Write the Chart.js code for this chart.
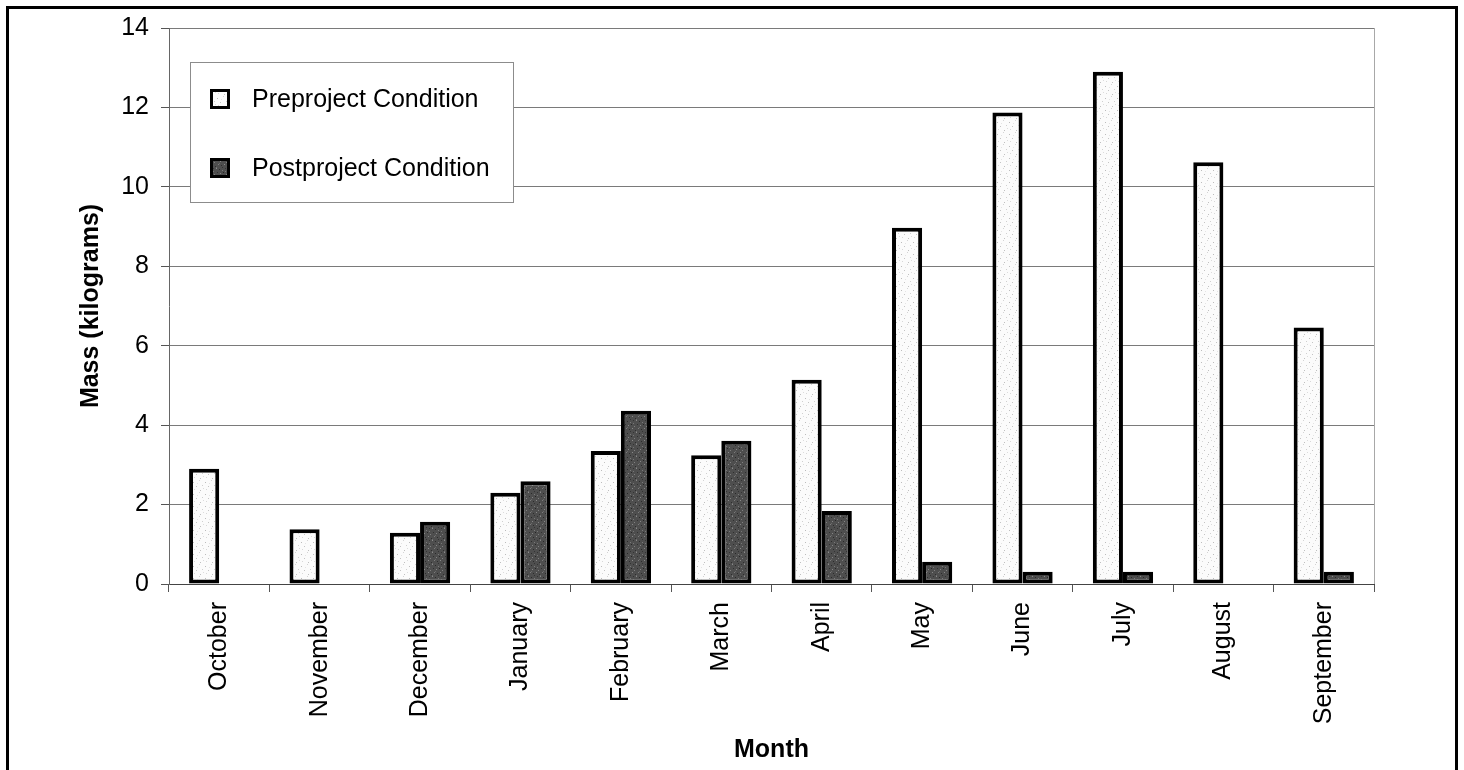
<!DOCTYPE html>
<html>
<head>
<meta charset="utf-8">
<title>Monthly Mass</title>
<script src="https://cdn.jsdelivr.net/npm/chart.js@4/dist/chart.umd.min.js"></script>
<style>
  html, body { margin: 0; padding: 0; background: #ffffff; }
  #wrap { width: 1464px; height: 770px; }
</style>
</head>
<body>
<div id="wrap"><canvas id="chart" width="1464" height="770"></canvas></div>
<script>
// Monthly mass, water year order
const months = ['October', 'November', 'December', 'January', 'February', 'March',
                'April', 'May', 'June', 'July', 'August', 'September'];
const preproject = [2.9, 1.38, 1.29, 2.3, 3.35, 3.24, 5.14, 8.97, 11.87, 12.9, 10.62, 6.46];
const postproject = [null, null, 1.57, 2.59, 4.36, 3.61, 1.84, 0.56, 0.31, 0.31, null, 0.31];
const seriesNames = ['Preproject Condition', 'Postproject Condition'];
const yTicks = [0, 2, 4, 6, 8, 10, 12, 14];

const FONT = '"Liberation Sans", Arial, Helvetica, sans-serif';

// Stippled fills
function stipple(base, dots) {
  const c = document.createElement('canvas');
  c.width = 12; c.height = 12;
  const g = c.getContext('2d');
  g.fillStyle = base;
  g.fillRect(0, 0, 12, 12);
  dots.forEach(([x, y, col]) => { g.fillStyle = col; g.fillRect(x, y, 1, 1); });
  return g.createPattern(c, 'repeat');
}
const lightFill = stipple('#fbfbfb', [
  [1, 2, '#bcbcbc'], [7, 0, '#d4d4d4'], [4, 6, '#c4c4c4'], [10, 5, '#d0d0d0'],
  [2, 9, '#d8d8d8'], [8, 10, '#c0c0c0'], [5, 3, '#e4e4e4'], [11, 8, '#dcdcdc']
]);
const darkFill = stipple('#4e4e4e', [
  [0, 0, '#8a8a8a'], [3, 1, '#2a2a2a'], [6, 2, '#7a7a7a'], [9, 0, '#333333'],
  [1, 4, '#303030'], [4, 5, '#858585'], [7, 4, '#262626'], [10, 6, '#808080'],
  [2, 8, '#7c7c7c'], [5, 9, '#2c2c2c'], [8, 8, '#888888'], [11, 10, '#2e2e2e'],
  [0, 11, '#6e6e6e'], [6, 11, '#333333'], [9, 3, '#777777'], [3, 7, '#6a6a6a']
]);

// Frame, right plot edge and legend box
const decorations = {
  id: 'decorations',
  afterDatasetsDraw(chart) {
    const { ctx, chartArea } = chart;
    ctx.save();
    // right edge of plot
    ctx.strokeStyle = '#a8a8a8';
    ctx.lineWidth = 1;
    ctx.beginPath();
    ctx.moveTo(Math.round(chartArea.right) + 0.5, chartArea.top);
    ctx.lineTo(Math.round(chartArea.right) + 0.5, chartArea.bottom);
    ctx.stroke();

    // legend box
    const bx = 190, by = 62, bw = 323, bh = 140;
    ctx.fillStyle = '#ffffff';
    ctx.fillRect(bx, by, bw, bh);
    ctx.strokeStyle = '#8c8c8c';
    ctx.lineWidth = 1;
    ctx.strokeRect(bx + 0.5, by + 0.5, bw, bh);
    const fills = [lightFill, darkFill];
    const rows = [99, 168];
    chart.data.datasets.forEach((ds, i) => {
      const cy = rows[i];
      ctx.fillStyle = fills[i];
      ctx.fillRect(210, cy - 10, 20, 20);
      ctx.strokeStyle = '#000000';
      ctx.lineWidth = 3;
      ctx.strokeRect(211.5, cy - 8.5, 17, 17);
      ctx.fillStyle = '#000000';
      ctx.font = '25px ' + FONT;
      ctx.textAlign = 'left';
      ctx.textBaseline = 'middle';
      ctx.fillText(ds.label, 252, cy + 1);
    });

    // outer frame
    ctx.strokeStyle = '#000000';
    ctx.lineWidth = 3;
    ctx.strokeRect(7.5, 7.5, 1449, 800);
    ctx.restore();
  }
};

new Chart(document.getElementById('chart'), {
  type: 'bar',
  data: {
    labels: months,
    datasets: [
      {
        label: seriesNames[0],
        data: preproject,
        backgroundColor: lightFill,
        borderColor: '#000000',
        borderWidth: 4,
        borderSkipped: false
      },
      {
        label: seriesNames[1],
        data: postproject,
        backgroundColor: darkFill,
        borderColor: '#000000',
        borderWidth: 4,
        borderSkipped: false
      }
    ]
  },
  options: {
    responsive: false,
    animation: false,
    devicePixelRatio: 1,
    layout: { padding: { top: 28, right: 90, bottom: 0, left: 0 } },
    datasets: { bar: { barPercentage: 1.0, categoryPercentage: 0.6 } },
    plugins: {
      legend: { display: false },
      tooltip: { enabled: false },
      title: { display: false }
    },
    scales: {
      x: {
        offset: true,
        afterFit(scale) { scale.height = 186; },
        grid: {
          offset: true,
          drawOnChartArea: false,
          drawTicks: true,
          tickLength: 8,
          tickColor: '#555555',
          lineWidth: 1
        },
        border: { display: true, color: '#444444', width: 1 },
        ticks: {
          autoSkip: false,
          minRotation: 90,
          maxRotation: 90,
          padding: 10,
          color: '#000000',
          font: { family: FONT, size: 25 }
        },
        title: {
          display: true,
          text: 'Month',
          color: '#000000',
          padding: { top: 0, bottom: 5 },
          font: { family: FONT, size: 25, weight: 'bold' }
        }
      },
      y: {
        min: 0,
        max: 14,
        afterFit(scale) { scale.width = 169; },
        afterBuildTicks(scale) { scale.ticks = yTicks.map(v => ({ value: v })); },
        grid: {
          color: '#7a7a7a',
          lineWidth: 1,
          drawTicks: true,
          tickLength: 8,
          tickColor: '#555555'
        },
        border: { display: true, color: '#666666', width: 1 },
        ticks: {
          padding: 12,
          color: '#000000',
          font: { family: FONT, size: 25 }
        },
        title: {
          display: true,
          text: 'Mass (kilograms)',
          color: '#000000',
          padding: { top: 76, bottom: 0 },
          font: { family: FONT, size: 25, weight: 'bold' }
        }
      }
    }
  },
  plugins: [decorations]
});
</script>
</body>
</html>
